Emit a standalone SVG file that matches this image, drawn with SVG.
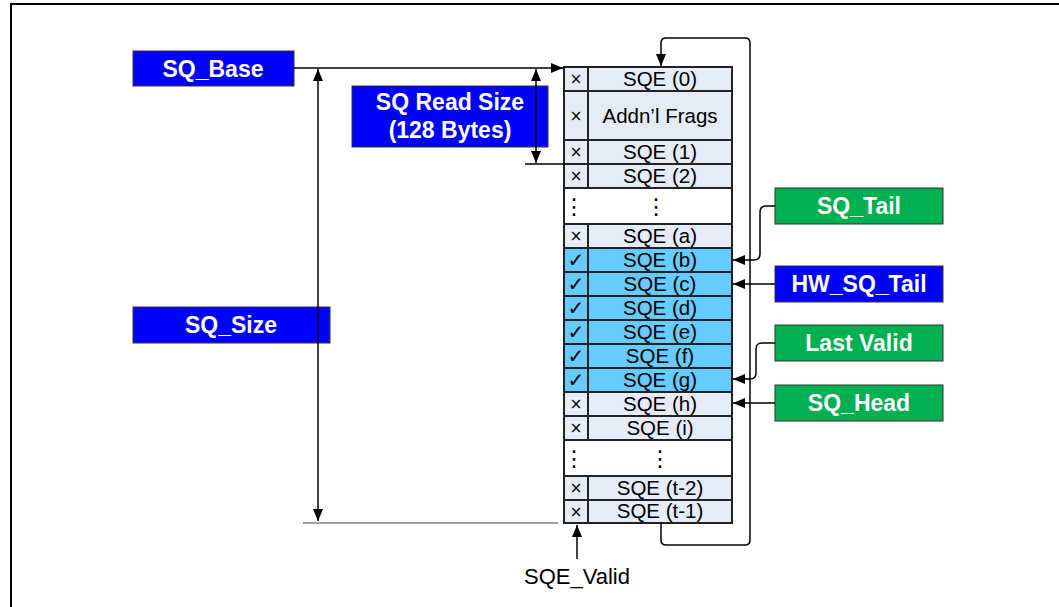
<svg xmlns="http://www.w3.org/2000/svg" width="1059" height="607" viewBox="0 0 1059 607">
<style>
.bx{stroke:#333;stroke-width:1}
.blue{fill:#0000FF}
.green{fill:#00B050}
.lbl{font-family:"Liberation Sans",Arial,sans-serif;font-weight:bold;font-size:23px;fill:#fff;text-anchor:middle}
.cell{fill:#E6ECF7;stroke:#222;stroke-width:2}
.cellv{fill:#66CCFF;stroke:#222;stroke-width:2}
.cellw{fill:#fff;stroke:#222;stroke-width:2}
.t{font-family:"Liberation Sans",Arial,sans-serif;font-size:20.5px;fill:#000;text-anchor:middle}
.m{font-family:"DejaVu Sans",sans-serif;font-size:15px;fill:#000;text-anchor:middle}
.c{font-family:"DejaVu Sans",sans-serif;font-size:20px;fill:#000;text-anchor:middle}
.d{font-family:"DejaVu Sans",sans-serif;font-size:22px;fill:#000;text-anchor:middle}
.ln{fill:none;stroke:#000;stroke-width:1.5}
</style>
<defs>
<marker id="ah" viewBox="0 0 12 10" refX="12" refY="5" markerWidth="12" markerHeight="10" markerUnits="userSpaceOnUse" orient="auto-start-reverse">
<path d="M0,0 L12,5 L0,10 Z" fill="#000"/>
</marker>
</defs>
<rect width="1059" height="607" fill="#fff"/>
<path d="M11,607 V4 H1059" fill="none" stroke="#000" stroke-width="2"/>

<g id="table">
<rect class="cell" x="564" y="67" width="168" height="24"/>
<rect class="cell" x="564" y="91" width="168" height="49"/>
<rect class="cell" x="564" y="140" width="168" height="24"/>
<rect class="cell" x="564" y="164" width="168" height="24"/>
<rect class="cellw" x="564" y="188" width="168" height="36"/>
<rect class="cell" x="564" y="224" width="168" height="24"/>
<rect class="cellv" x="564" y="248" width="168" height="24"/>
<rect class="cellv" x="564" y="272" width="168" height="24"/>
<rect class="cellv" x="564" y="296" width="168" height="24"/>
<rect class="cellv" x="564" y="320" width="168" height="24"/>
<rect class="cellv" x="564" y="344" width="168" height="24"/>
<rect class="cellv" x="564" y="368" width="168" height="24"/>
<rect class="cell" x="564" y="392" width="168" height="24"/>
<rect class="cell" x="564" y="416" width="168" height="24"/>
<rect class="cellw" x="564" y="440" width="168" height="36"/>
<rect class="cell" x="564" y="476" width="168" height="24"/>
<rect class="cell" x="564" y="500" width="168" height="23"/>
<path d="M588,67 V188 M588,224 V440 M588,476 V523" stroke="#222" stroke-width="2"/>
<rect x="564" y="67" width="168" height="456" fill="none" stroke="#222" stroke-width="2"/>
<g class="t">
<text x="660" y="86">SQE (0)</text>
<text x="660" y="123">Addn’l Frags</text>
<text x="660" y="159">SQE (1)</text>
<text x="660" y="183">SQE (2)</text>
<text x="660" y="243">SQE (a)</text>
<text x="660" y="267">SQE (b)</text>
<text x="660" y="291">SQE (c)</text>
<text x="660" y="315">SQE (d)</text>
<text x="660" y="339">SQE (e)</text>
<text x="660" y="363">SQE (f)</text>
<text x="660" y="387">SQE (g)</text>
<text x="660" y="411">SQE (h)</text>
<text x="660" y="435">SQE (i)</text>
<text x="660" y="495">SQE (t-2)</text>
<text x="660" y="518">SQE (t-1)</text>
</g>
<g class="m">
<text x="576" y="84">×</text>
<text x="576" y="121">×</text>
<text x="576" y="157">×</text>
<text x="576" y="181">×</text>
<text x="576" y="241">×</text>
<text x="576" y="409">×</text>
<text x="576" y="433">×</text>
<text x="576" y="493">×</text>
<text x="576" y="517">×</text>
</g>
<g class="c">
<text x="576" y="267">✓</text>
<text x="576" y="291">✓</text>
<text x="576" y="315">✓</text>
<text x="576" y="339">✓</text>
<text x="576" y="363">✓</text>
<text x="576" y="387">✓</text>
</g>
<g class="d">
<text x="574" y="214">⋮</text>
<text x="656" y="214">⋮</text>
<text x="574" y="466">⋮</text>
<text x="660" y="466">⋮</text>
</g>
</g>

<g id="sq_base"><rect class="bx blue" x="133" y="51" width="161" height="35"/><text class="lbl" x="213" y="77">SQ_Base</text></g>
<g id="sq_read_size"><rect class="bx blue" x="352" y="86" width="196" height="61"/><text class="lbl" x="450" y="110">SQ Read Size</text><text class="lbl" x="450" y="138">(128 Bytes)</text></g>
<g id="sq_size"><rect class="bx blue" x="133" y="307" width="197" height="36"/><text class="lbl" x="231" y="333">SQ_Size</text></g>
<g id="sq_tail"><rect class="bx green" x="775" y="188" width="168" height="36"/><text class="lbl" x="859" y="214">SQ_Tail</text></g>
<g id="hw_sq_tail"><rect class="bx blue" x="775" y="266" width="168" height="36"/><text class="lbl" x="859" y="292">HW_SQ_Tail</text></g>
<g id="last_valid"><rect class="bx green" x="775" y="325" width="168" height="36"/><text class="lbl" x="859" y="351">Last Valid</text></g>
<g id="sq_head"><rect class="bx green" x="775" y="385" width="168" height="36"/><text class="lbl" x="859" y="411">SQ_Head</text></g>
<g id="sqe_valid"><text x="577" y="584" font-family="Liberation Sans, Arial, sans-serif" font-size="22" text-anchor="middle">SQE_Valid</text></g>

<g id="connectors">
<path class="ln" d="M294,68 H563" marker-end="url(#ah)"/>
<path class="ln" d="M318,69 V521" marker-start="url(#ah)" marker-end="url(#ah)"/>
<path d="M303,523 H558" stroke="#808080" stroke-width="1.5"/>
<path class="ln" d="M536,69 V163" marker-start="url(#ah)" marker-end="url(#ah)"/>
<path class="ln" d="M525,164 H564" stroke-width="1"/>
<path class="ln" d="M661,523 V540 Q661,545 666,545 H745 Q750,545 750,540 V43 Q750,38 745,38 H666 Q661,38 661,43 V66" stroke-width="1.2" marker-end="url(#ah)"/>
<path class="ln" d="M775,206 H766 Q760,206 760,212 V254 Q760,260 754,260 H733" marker-end="url(#ah)"/>
<path class="ln" d="M775,284 H733" marker-end="url(#ah)"/>
<path class="ln" d="M775,343 H762 Q756,343 756,349 V373 Q756,379 750,379 H733" marker-end="url(#ah)"/>
<path class="ln" d="M775,403 H733" marker-end="url(#ah)"/>
<path class="ln" d="M577,559 V525" marker-end="url(#ah)"/>
</g>
</svg>
